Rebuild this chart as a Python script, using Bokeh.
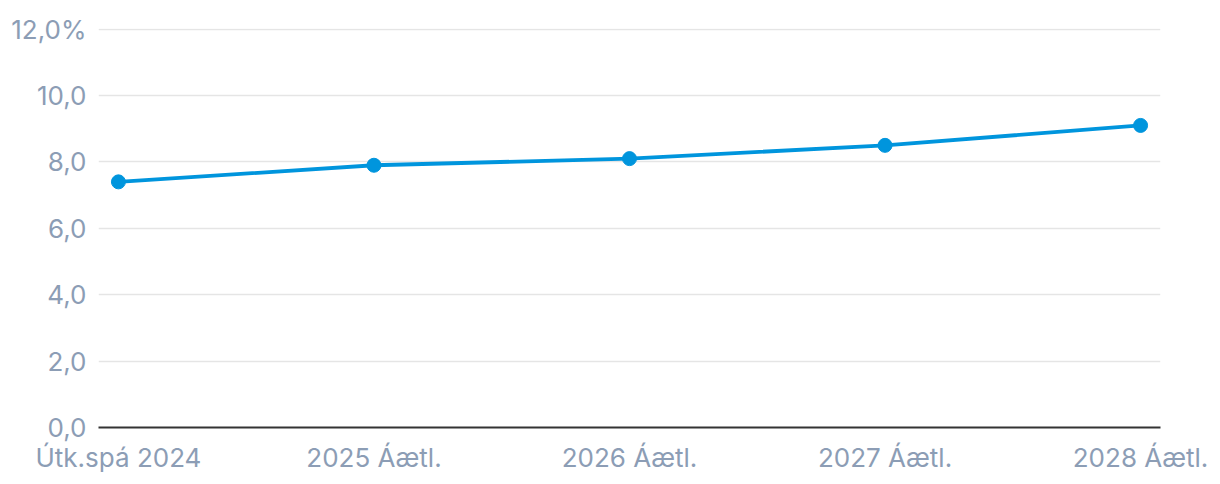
from bokeh.plotting import figure
from bokeh.models import Range1d, FixedTicker
from bokeh.embed import file_html
from bokeh.resources import INLINE

categories = ["Útk.spá 2024", "2025 Áætl.", "2026 Áætl.", "2027 Áætl.", "2028 Áætl."]
values = [7.4, 7.9, 8.1, 8.5, 9.1]
y_ticks = [0, 2, 4, 6, 8, 10, 12]
y_labels = ["0,0", "2,0", "4,0", "6,0", "8,0", "10,0", "12,0%"]

xs = list(range(len(categories)))

p = figure(width=1212, height=476, output_backend="svg", toolbar_location=None,
           x_range=Range1d(-0.078, len(categories) - 1 + 0.078), y_range=Range1d(0, 12.02),
           min_border_left=98, min_border_right=52, min_border_top=28, min_border_bottom=49)
p.outline_line_color = None
p.background_fill_color = "white"
p.border_fill_color = "white"

p.line(xs, values, line_color="#0095dd", line_width=3.8)
p.scatter(xs, values, size=14, fill_color="#0095dd", line_color="#0095dd")

font = "Inter"
label_color = "#8c9db5"

p.xaxis.ticker = FixedTicker(ticks=xs)
p.xaxis.major_label_overrides = {i: c for i, c in enumerate(categories)}
p.xaxis.axis_line_color = "#333333"
p.xaxis.axis_line_width = 2
p.xaxis.major_tick_line_color = None
p.xaxis.minor_tick_line_color = None
p.xaxis.major_label_text_font = font
p.xaxis.major_label_text_font_size = "26px"
p.xaxis.major_label_text_color = label_color
p.xaxis.major_label_standoff = 8

p.yaxis.ticker = FixedTicker(ticks=y_ticks)
p.yaxis.major_label_overrides = {t: l for t, l in zip(y_ticks, y_labels)}
p.yaxis.axis_line_color = None
p.yaxis.major_tick_line_color = None
p.yaxis.minor_tick_line_color = None
p.yaxis.major_label_text_font = font
p.yaxis.major_label_text_font_size = "26px"
p.yaxis.major_label_text_color = label_color
p.yaxis.major_label_standoff = 6

p.xgrid.grid_line_color = None
p.ygrid.grid_line_color = "#e5e5e5"
p.ygrid.grid_line_width = 1.5

open("out.html", "w").write(file_html(p, INLINE))
